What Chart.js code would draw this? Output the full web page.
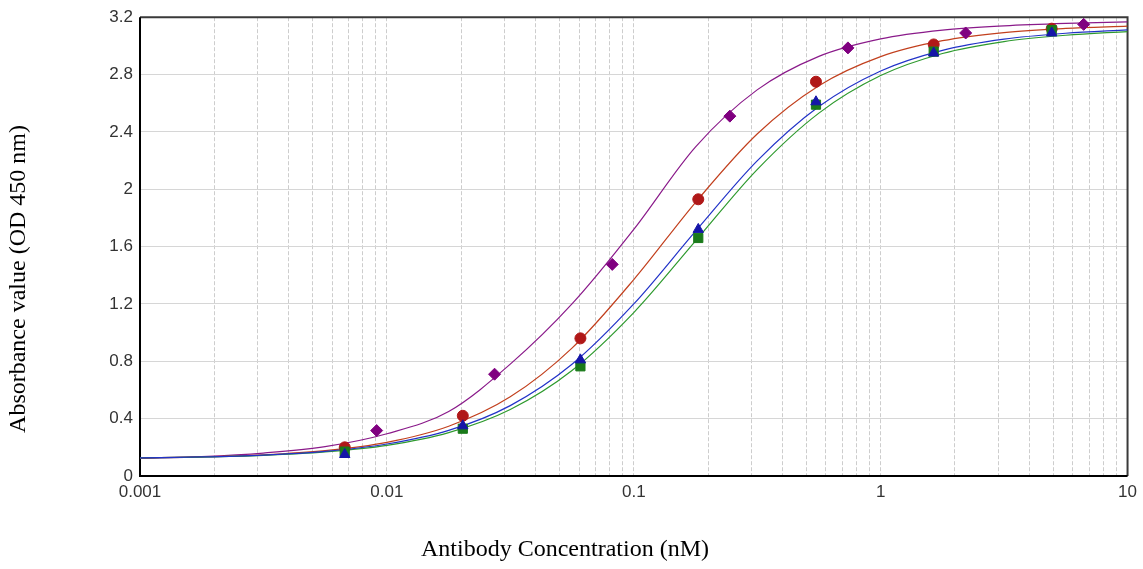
<!DOCTYPE html>
<html>
<head>
<meta charset="utf-8">
<script src="https://cdn.jsdelivr.net/npm/chart.js@4.4.1/dist/chart.umd.min.js"></script>
<style>
html,body{margin:0;padding:0;background:#fff;}
#wrap{position:relative;width:1143px;height:569px;}
</style>
</head>
<body>
<div id="wrap"><canvas id="c" width="1143" height="569"></canvas></div>
<script>
// ---- Axis ticks / labels ----
const xTickValues = [0.001,0.002,0.003,0.004,0.005,0.006,0.007,0.008,0.009,
                     0.01,0.02,0.03,0.04,0.05,0.06,0.07,0.08,0.09,
                     0.1,0.2,0.3,0.4,0.5,0.6,0.7,0.8,0.9,
                     1,2,3,4,5,6,7,8,9,10];
const xTickLabels = ['0.001','0.01','0.1','1','10'];
const xMajorValues = [0.001,0.01,0.1,1,10];
const yTickValues = [0,0.4,0.8,1.2,1.6,2,2.4,2.8,3.2];
const yTickLabels = ['0','0.4','0.8','1.2','1.6','2','2.4','2.8','3.2'];
const xTitle = 'Antibody Concentration (nM)';
const yTitle = 'Absorbance value (OD 450 nm)';

// ---- Measured points ----
const purpleX = [0.00909,0.0273,0.0818,0.245,0.737,2.21,6.64];
const purpleY = [0.317,0.71,1.476,2.51,2.986,3.09,3.15];
const redX    = [0.00675,0.0203,0.0608,0.1825,0.547,1.64,4.93];
const redY    = [0.20,0.42,0.96,1.93,2.75,3.01,3.12];
const blueX   = [0.00675,0.0203,0.0608,0.1825,0.547,1.64,4.93];
const blueY   = [0.15,0.35,0.81,1.72,2.61,2.95,3.09];
const greenX  = [0.00675,0.0203,0.0608,0.1825,0.547,1.64,4.93];
const greenY  = [0.17,0.33,0.765,1.66,2.59,2.96,3.11];

// ---- Fitted curves ----
const curveX      = [0.001,0.00178,0.00316,0.00562,0.01,0.0178,0.0316,0.0562,0.1,
                     0.178,0.316,0.562,1,1.78,3.16,5.62,10];
const purpleCurve = [0.122,0.135,0.160,0.205,0.295,0.450,0.780,1.200,1.720,
                     2.296,2.693,2.927,3.049,3.110,3.140,3.157,3.167];
const redCurve    = [0.127,0.134,0.148,0.177,0.235,0.347,0.552,0.892,1.370,
                     1.909,2.385,2.722,2.925,3.036,3.093,3.122,3.138];
const blueCurve   = [0.127,0.133,0.146,0.172,0.223,0.318,0.491,0.779,1.200,
                     1.708,2.198,2.577,2.825,2.969,3.047,3.088,3.112];
const greenCurve  = [0.126,0.132,0.144,0.168,0.214,0.303,0.464,0.736,1.140,
                     1.640,2.137,2.531,2.793,2.947,3.030,3.074,3.100];

const zip = (xs, ys) => xs.map((x, i) => ({x, y: ys[i]}));

function curveDs(data, color, order) {
  return {
    type: 'scatter', data, showLine: true, borderColor: color, borderWidth: 1.2,
    pointRadius: 0, pointHoverRadius: 0, cubicInterpolationMode: 'monotone',
    fill: false, order
  };
}
function pointDs(data, color, style, radius, order) {
  return {
    type: 'scatter', data, showLine: false, pointStyle: style, pointRadius: radius,
    pointHoverRadius: radius, backgroundColor: color, borderColor: color, borderWidth: 1,
    order, clip: false
  };
}

const framePlugin = {
  id: 'frame',
  beforeDatasetsDraw(chart) {
    const {ctx, chartArea: a} = chart;
    ctx.save();
    ctx.lineWidth = 2;
    ctx.strokeStyle = '#3a3a3a';
    ctx.beginPath();
    ctx.moveTo(a.left, a.top); ctx.lineTo(a.right, a.top); ctx.lineTo(a.right, a.bottom);
    ctx.stroke();
    ctx.strokeStyle = '#000';
    ctx.beginPath();
    ctx.moveTo(a.left, a.top); ctx.lineTo(a.left, a.bottom); ctx.lineTo(a.right, a.bottom);
    ctx.stroke();
    ctx.restore();
  },
  afterDraw(chart) {
    const {ctx} = chart;
    ctx.save();
    ctx.fillStyle = '#000';
    ctx.font = '24px "Liberation Serif", "Times New Roman", serif';
    ctx.textAlign = 'center';
    ctx.textBaseline = 'middle';
    ctx.fillText(xTitle, 565, 550);
    ctx.translate(19, 279);
    ctx.rotate(-Math.PI / 2);
    ctx.fillText(yTitle, 0, 0);
    ctx.restore();
  }
};

new Chart(document.getElementById('c'), {
  type: 'scatter',
  data: {
    datasets: [
      curveDs(zip(curveX, purpleCurve), '#8a1a8a', 7),
      curveDs(zip(curveX, redCurve), '#c2401e', 6),
      curveDs(zip(curveX, greenCurve), '#2e9a2e', 5),
      curveDs(zip(curveX, blueCurve), '#2233c8', 4),
      pointDs(zip(purpleX, purpleY), '#800080', 'rectRot', 6, 3),
      pointDs(zip(redX, redY), '#b01818', 'circle', 5.5, 2),
      pointDs(zip(greenX, greenY), '#1a7a1a', 'rect', 6.5, 1),
      pointDs(zip(blueX, blueY), '#1515a8', 'triangle', 6, 0)
    ]
  },
  options: {
    responsive: false,
    animation: false,
    events: [],
    layout: {padding: {left: 0, top: 12, right: 14, bottom: 0}},
    plugins: {legend: {display: false}, tooltip: {enabled: false}},
    scales: {
      x: {
        type: 'logarithmic', min: 0.001, max: 10,
        afterBuildTicks(s) { s.ticks = xTickValues.map(v => ({value: v, major: xMajorValues.includes(v)})); },
        afterFit(s) { s.height = 93; },
        ticks: {
          autoSkip: false, maxRotation: 0, minRotation: 0, padding: 6,
          color: '#333333', font: {family: '"Liberation Sans", Arial, sans-serif', size: 17},
          callback(v) { const i = xMajorValues.findIndex(m => Math.abs(m - v) < m * 1e-6); return i >= 0 ? xTickLabels[i] : ''; }
        },
        grid: {color: '#cdcdcd', lineWidth: 1, drawTicks: false},
        border: {display: false, dash: [4, 2]}
      },
      y: {
        type: 'linear', min: 0, max: 3.2,
        afterBuildTicks(s) { s.ticks = yTickValues.map(v => ({value: v})); },
        afterFit(s) { s.width = 140; },
        ticks: {
          autoSkip: false, padding: 7,
          color: '#333333', font: {family: '"Liberation Sans", Arial, sans-serif', size: 17},
          callback(v) { const i = yTickValues.findIndex(t => Math.abs(t - v) < 1e-9); return i >= 0 ? yTickLabels[i] : ''; }
        },
        grid: {color: '#d6d6d6', lineWidth: 1, drawTicks: false},
        border: {display: false}
      }
    }
  },
  plugins: [framePlugin]
});
</script>
</body>
</html>
